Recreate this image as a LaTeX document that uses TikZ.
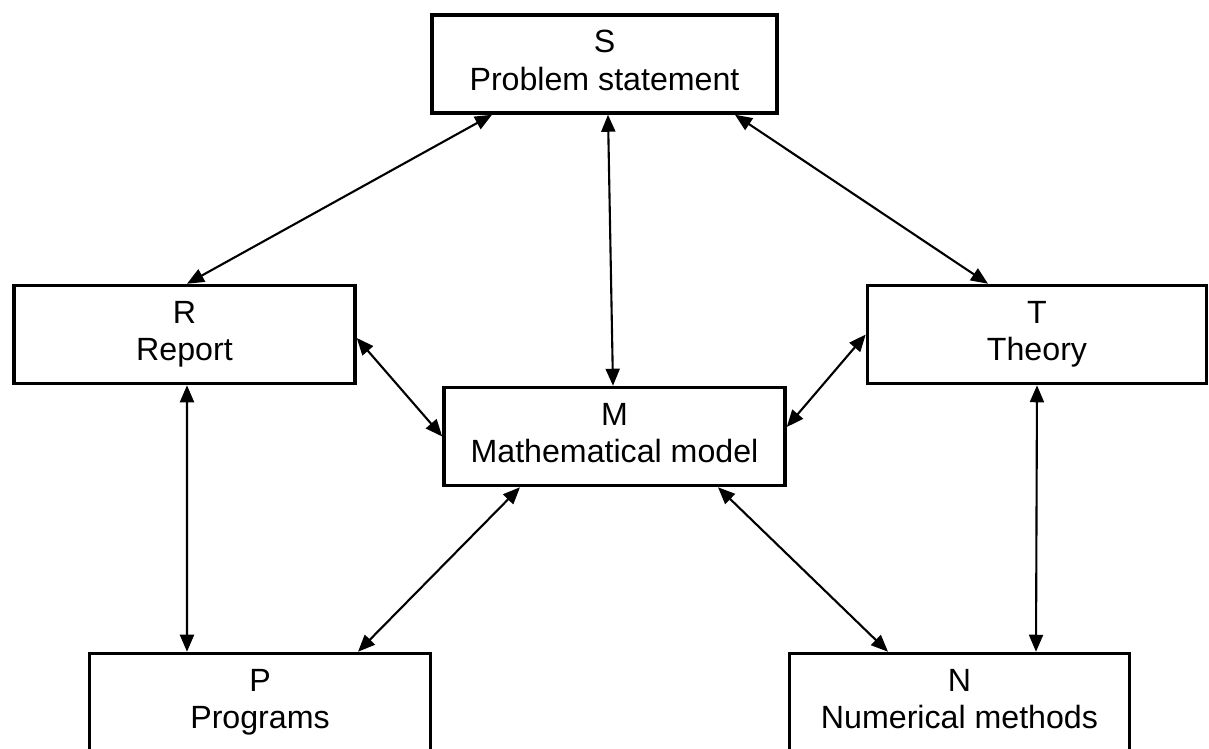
\documentclass[tikz,border=0pt]{standalone}
\usepackage{fontspec}
\setmainfont{Liberation Sans}
\usetikzlibrary{arrows.meta}
\tikzset{
 blok/.style={draw, line width=2pt, align=center, minimum width=#1, minimum height=1.96cm, inner sep=0pt,
  font=\fontsize{18.3}{21.5}\selectfont},
 blok/.default=6.82cm,
 puscica/.style={{Triangle[length=0.34cm,width=0.28cm]}-{Triangle[length=0.34cm,width=0.28cm]}, line width=1.2pt}
}
\begin{document}
\begin{tikzpicture}
\useasboundingbox (0,0) rectangle (24.18,-14.98);

\node[blok=6.9cm] (S) at (12.09,-1.28) {\strut S\\Problem statement\strut};
\node[blok] (R) at (3.69,-6.69) {\strut R\\Report\strut};
\node[blok=6.78cm] (T) at (20.74,-6.69) {\strut T\\Theory\strut};
\node[blok] (M) at (12.29,-8.73) {\strut M\\Mathematical model\strut};
\node[blok] (P) at (5.2,-14.05) {\strut P\\Programs\strut};
\node[blok=6.8cm] (N) at (19.19,-14.05) {\strut N\\Numerical methods\strut};

% S z ostalimi
\draw[puscica] ([xshift=-2.25cm]S.south) -- ([xshift=0.05cm]R.north);
\draw[puscica] ([xshift=0.07cm]S.south) -- ([xshift=-0.03cm]M.north);
\draw[puscica] ([xshift=2.61cm]S.south) -- ([xshift=-0.98cm]T.north);

\draw[puscica] ([yshift=-0.07cm]R.east) -- (M.west);
\draw[puscica] ([yshift=0.19cm]M.east) -- (T.west);

% spodnja vrsta
\draw[puscica] ([xshift=0.05cm]R.south) -- ([xshift=-1.46cm]P.north);
\draw[puscica] ([xshift=-1.89cm]M.south) -- ([xshift=1.96cm]P.north);
\draw[puscica] ([xshift=2.07cm]M.south) -- ([xshift=-1.43cm]N.north);
\draw[puscica] (T.south) -- ([xshift=1.53cm]N.north);
\end{tikzpicture}
\end{document}
